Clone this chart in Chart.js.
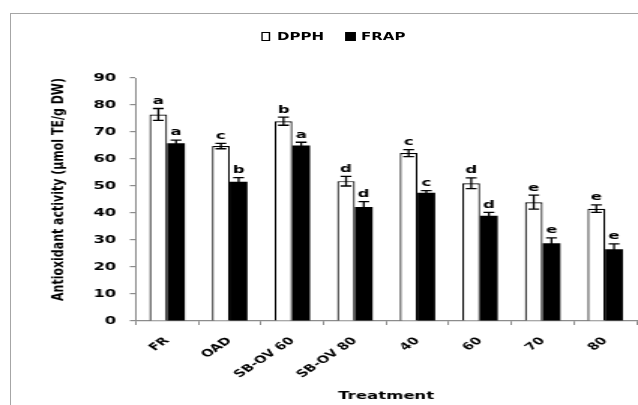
<!DOCTYPE html>
<html>
<head>
<meta charset="utf-8">
<script src="https://cdn.jsdelivr.net/npm/chart.js@4/dist/chart.umd.min.js"></script>
<style>
  html, body { margin: 0; padding: 0; background: #fff; }
  #page { position: relative; width: 638px; height: 405px; overflow: hidden; }
  #frame { position: absolute; left: 10px; top: 13px; width: 700px; height: 500px; border: 1.5px solid #a6a6a6; }
  /* the reference is a chart stretched sideways, so draw it narrow and widen it */
  #stretch { position: absolute; left: 0; top: 0; width: 425px; height: 405px; transform: scaleX(1.5012); transform-origin: 0 0; }
  #stretch canvas { position: absolute; left: 0; top: 0; }
  .lg { position: absolute; font: bold 10px "DejaVu Sans", Verdana, sans-serif; line-height: 12px; color: #000; white-space: nowrap; }
  .lgbox { position: absolute; box-sizing: border-box; border: 1px solid #000; }
</style>
</head>
<body>
<div id="page">
  <div id="frame"></div>
  <div id="stretch">
    <canvas id="chart" width="425" height="405"></canvas>
    <div class="lgbox" style="left:174px; top:32px; width:6.3px; height:9px; background:#fff"></div>
    <div class="lg" style="left:184.5px; top:30.5px">DPPH</div>
    <div class="lgbox" style="left:230px; top:32px; width:7.3px; height:9px; background:#000"></div>
    <div class="lg" style="left:240.5px; top:30.5px">FRAP</div>
  </div>
</div>
<script>
const treatments = ["FR", "OAD", "SB-OV 60", "SB-OV 80", "40", "60", "70", "80"];
const dpph = [76.5, 64.8, 74.0, 51.8, 62.2, 51.0, 44.0, 41.6];
const frap = [65.8, 51.6, 65.0, 42.2, 47.5, 39.0, 28.8, 26.6];
const dpphErr = [2.2, 1.0, 1.5, 1.8, 1.3, 2.0, 2.6, 1.4];
const frapErr = [1.2, 1.5, 1.2, 2.0, 0.8, 1.2, 2.0, 2.0];
const dpphLetters = ["a", "c", "b", "d", "c", "d", "e", "e"];
const frapLetters = ["a", "b", "a", "d", "c", "d", "e", "e"];
const yTicks = [0, 10, 20, 30, 40, 50, 60, 70, 80, 90];

const axisGrey = '#8c8c8c';

// error bars (SE) and the significance letters above them
const errorBars = {
    id: 'errorBars',
    afterDatasetsDraw(chart) {
        const ctx = chart.ctx;
        const y = chart.scales.y;
        const errs = [dpphErr, frapErr];
        const letters = [dpphLetters, frapLetters];
        chart.data.datasets.forEach((ds, di) => {
            chart.getDatasetMeta(di).data.forEach((bar, i) => {
                const v = ds.data[i];
                const e = errs[di][i];
                const top = y.getPixelForValue(v + e);
                const bot = y.getPixelForValue(v - e);
                ctx.save();
                ctx.strokeStyle = '#000';
                ctx.lineWidth = 1.3;
                ctx.beginPath();
                ctx.moveTo(bar.x, top);
                ctx.lineTo(bar.x, bot);
                ctx.moveTo(bar.x - 3.6, top);
                ctx.lineTo(bar.x + 3.6, top);
                ctx.moveTo(bar.x - 3.6, bot);
                ctx.lineTo(bar.x + 3.6, bot);
                ctx.stroke();
                ctx.fillStyle = '#000';
                ctx.font = 'bold 11px "DejaVu Sans"';
                ctx.textAlign = 'center';
                ctx.textBaseline = 'bottom';
                ctx.fillText(letters[di][i], bar.x, top - 2);
                ctx.restore();
            });
        });
    }
};

new Chart(document.getElementById('chart'), {
    type: 'bar',
    data: {
        labels: treatments,
        datasets: [
            {
                label: "DPPH",
                data: dpph,
                backgroundColor: '#fff',
                borderColor: '#000',
                borderWidth: 1.2,
                categoryPercentage: 0.566,
                barPercentage: 1.0
            },
            {
                label: "FRAP",
                data: frap,
                backgroundColor: '#000',
                borderColor: '#000',
                borderWidth: 0,
                categoryPercentage: 0.566,
                barPercentage: 1.0
            }
        ]
    },
    options: {
        responsive: false,
        animation: false,
        layout: { padding: { left: 0, right: 1, top: 78, bottom: 0 } },
        plugins: {
            legend: { display: false },
            tooltip: { enabled: false }
        },
        scales: {
            x: {
                afterFit: s => { s.height = 84; },
                border: { color: axisGrey, width: 1.2 },
                grid: { drawOnChartArea: false, color: axisGrey, tickLength: 4, lineWidth: 1 },
                ticks: { color: '#000', font: { family: "DejaVu Sans", weight: "bold", size: 10 }, minRotation: 45, maxRotation: 45, padding: 10 },
                title: {
                    display: true,
                    text: 'Treatment',
                    color: '#000',
                    font: { family: "DejaVu Sans", weight: "bold", size: 11, lineHeight: 1 },
                    padding: { top: 0, bottom: 3 }
                }
            },
            y: {
                min: 0,
                max: 90,
                afterFit: s => { s.width = 90.5; },
                afterBuildTicks: s => { s.ticks = yTicks.map(v => ({ value: v })); },
                border: { color: axisGrey, width: 1 },
                grid: { drawOnChartArea: false, color: axisGrey, tickLength: 4, lineWidth: 1.2 },
                ticks: { color: '#000', font: { family: "DejaVu Sans", weight: "bold", size: 11 }, padding: 9 },
                title: {
                    display: true,
                    text: 'Antioxidant activity (µmol TE/g DW)',
                    align: 'end',
                    color: '#000',
                    font: { family: "DejaVu Sans", weight: "bold", size: 11 },
                    padding: { top: 33, bottom: 0 }
                }
            }
        }
    },
    plugins: [errorBars]
});
</script>
</body>
</html>
